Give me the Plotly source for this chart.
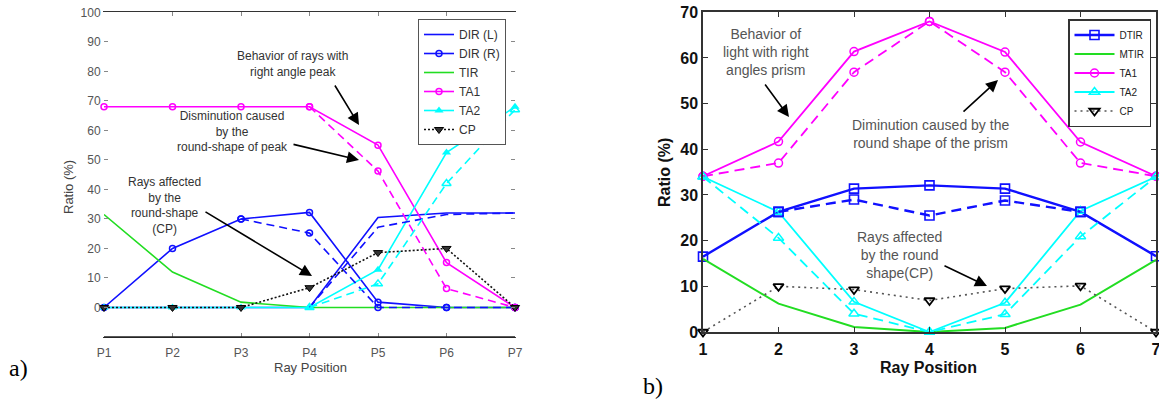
import plotly.graph_objects as go

W, H = 1159, 409

# ---------------- data: panel a ----------------
pos_a = [1, 2, 3, 4, 5, 6, 7]
pos_labels_a = ["P1", "P2", "P3", "P4", "P5", "P6", "P7"]
dir_l_a = [0, 0, 0, 0, 30.5, 32, 32]
dir_r_a = [0, 20, 30, 32.2, 1.8, 0, 0]
tir_a = [31.5, 12, 1.8, 0, 0, 0, 0]
ta1_a = [68, 68, 68, 68, 55, 15.2, 0]
ta2_a = [0, 0, 0, 0, 12.8, 52.5, 68]
cp_a = [0, 0, 0, 6.7, 18.6, 20, 0]
# round-shape (dashed) variants
dir_l_a_round = [None, None, None, 0, 27.2, 31.5, 32]
dir_r_a_round = [None, None, 30, 25.2, 0, 0, 0]
ta1_a_round = [None, None, None, 68, 46.2, 6.4, 0]
ta2_a_round = [None, None, None, 0, 8, 42, 67]
yticks_a = [0, 10, 20, 30, 40, 50, 60, 70, 80, 90, 100]

# ---------------- data: panel b ----------------
pos_b = [1, 2, 3, 4, 5, 6, 7]
dtir_b = [16.5, 26.3, 31.4, 32.1, 31.4, 26.3, 16.6]
dtir_b_round = [None, 26.3, 29, 25.5, 28.8, 26.3, None]
mtir_b = [16, 6.2, 1.1, 0, 0.9, 6, 15.8]
ta1_b = [34.1, 41.7, 61.4, 68, 61.3, 41.6, 34.1]
ta1_b_round = [34.1, 37, 56.9, 68, 56.9, 37, 34.1]
ta2_b = [34, 26.3, 6.6, 0, 6.4, 26.5, 34]
ta2_b_round = [34, 20.6, 4, 0, 3.9, 20.9, 34]
cp_b = [0, 10, 9.3, 6.9, 9.5, 10.1, 0]
yticks_b = [0, 10, 20, 30, 40, 50, 60, 70]

BLUE = "#1010ff"
GREEN = "#22dd22"
MAG = "#ff00ff"
CYAN = "#00ffff"
FONT = "Liberation Sans, Arial, sans-serif"


def px(x):
    return x / W


def py(y):
    return 1 - y / H


fig = go.Figure()

# ---- panel a traces ----
fig.add_trace(go.Scatter(x=pos_a, y=dir_l_a, name="DIR (L)", mode="lines",
                         line=dict(color=BLUE, width=1.6), legend="legend",
                         xaxis="x", yaxis="y", cliponaxis=False))
fig.add_trace(go.Scatter(x=pos_a, y=dir_r_a, name="DIR (R)", mode="lines+markers",
                         line=dict(color=BLUE, width=1.6),
                         marker=dict(symbol="circle-open", size=6, line=dict(width=1.5)),
                         legend="legend", xaxis="x", yaxis="y", cliponaxis=False))
fig.add_trace(go.Scatter(x=pos_a, y=tir_a, name="TIR", mode="lines",
                         line=dict(color=GREEN, width=1.6), legend="legend",
                         xaxis="x", yaxis="y", cliponaxis=False))
fig.add_trace(go.Scatter(x=pos_a, y=ta1_a, name="TA1", mode="lines+markers",
                         line=dict(color=MAG, width=1.6),
                         marker=dict(symbol="circle-open", size=6, line=dict(width=1.5)),
                         legend="legend", xaxis="x", yaxis="y", cliponaxis=False))
fig.add_trace(go.Scatter(x=pos_a, y=ta2_a, name="TA2", mode="lines+markers",
                         line=dict(color=CYAN, width=1.6),
                         marker=dict(symbol="triangle-up", size=8),
                         legend="legend", xaxis="x", yaxis="y", cliponaxis=False))
# dashed round-shape variants
fig.add_trace(go.Scatter(x=pos_a, y=dir_l_a_round, mode="lines", showlegend=False,
                         line=dict(color=BLUE, width=1.6, dash="8px,5px"),
                         xaxis="x", yaxis="y", cliponaxis=False))
fig.add_trace(go.Scatter(x=pos_a, y=dir_r_a_round, mode="lines+markers", showlegend=False,
                         line=dict(color=BLUE, width=1.6, dash="8px,5px"),
                         marker=dict(symbol="circle-open", size=6, line=dict(width=1.5)),
                         xaxis="x", yaxis="y", cliponaxis=False))
fig.add_trace(go.Scatter(x=pos_a, y=ta1_a_round, mode="lines+markers", showlegend=False,
                         line=dict(color=MAG, width=1.6, dash="8px,5px"),
                         marker=dict(symbol="circle-open", size=6, line=dict(width=1.5)),
                         xaxis="x", yaxis="y", cliponaxis=False))
fig.add_trace(go.Scatter(x=pos_a, y=ta2_a_round, mode="lines+markers", showlegend=False,
                         line=dict(color=CYAN, width=1.6, dash="8px,5px"),
                         marker=dict(symbol="triangle-up-open", size=8, line=dict(width=1.5)),
                         xaxis="x", yaxis="y", cliponaxis=False))
fig.add_trace(go.Scatter(x=pos_a, y=cp_a, name="CP", mode="lines+markers",
                         line=dict(color="#111111", width=1.6, dash="2px,2px"),
                         marker=dict(symbol="triangle-down", size=8, color="#333333",
                                     line=dict(color="#000000", width=1)),
                         legend="legend", xaxis="x", yaxis="y", cliponaxis=False))

# ---- panel b traces ----
fig.add_trace(go.Scatter(x=pos_b, y=dtir_b, name="DTIR", mode="lines+markers",
                         line=dict(color=BLUE, width=2.4),
                         marker=dict(symbol="square-open", size=9, line=dict(width=1.6)),
                         legend="legend2", xaxis="x2", yaxis="y2", cliponaxis=False))
fig.add_trace(go.Scatter(x=pos_b, y=mtir_b, name="MTIR", mode="lines",
                         line=dict(color=GREEN, width=2),
                         legend="legend2", xaxis="x2", yaxis="y2", cliponaxis=False))
fig.add_trace(go.Scatter(x=pos_b, y=ta1_b, name="TA1", mode="lines+markers",
                         line=dict(color=MAG, width=1.8),
                         marker=dict(symbol="circle-open", size=8, line=dict(width=1.5)),
                         legend="legend2", xaxis="x2", yaxis="y2", cliponaxis=False))
fig.add_trace(go.Scatter(x=pos_b, y=ta2_b, name="TA2", mode="lines+markers",
                         line=dict(color=CYAN, width=1.8),
                         marker=dict(symbol="triangle-up-open", size=9, line=dict(width=1.5)),
                         legend="legend2", xaxis="x2", yaxis="y2", cliponaxis=False))
fig.add_trace(go.Scatter(x=pos_b, y=dtir_b_round, mode="lines+markers", showlegend=False,
                         line=dict(color=BLUE, width=2.4, dash="10px,6px"),
                         marker=dict(symbol="square-open", size=9, line=dict(width=1.6)),
                         xaxis="x2", yaxis="y2", cliponaxis=False))
fig.add_trace(go.Scatter(x=pos_b, y=ta1_b_round, mode="lines+markers", showlegend=False,
                         line=dict(color=MAG, width=1.8, dash="10px,6px"),
                         marker=dict(symbol="circle-open", size=8, line=dict(width=1.5)),
                         xaxis="x2", yaxis="y2", cliponaxis=False))
fig.add_trace(go.Scatter(x=pos_b, y=ta2_b_round, mode="lines+markers", showlegend=False,
                         line=dict(color=CYAN, width=1.8, dash="10px,6px"),
                         marker=dict(symbol="triangle-up-open", size=9, line=dict(width=1.5)),
                         xaxis="x2", yaxis="y2", cliponaxis=False))
fig.add_trace(go.Scatter(x=pos_b, y=cp_b, name="CP", mode="lines+markers",
                         line=dict(color="#555555", width=1.6, dash="2px,4px"),
                         marker=dict(symbol="triangle-down-open", size=9, color="#000000",
                                     line=dict(width=1.8)),
                         legend="legend2", xaxis="x2", yaxis="y2", cliponaxis=False))

annotations = []


def text_ann(x, y, text, size, color, bold=False, angle=0, family=FONT):
    annotations.append(dict(x=px(x), y=py(y), xref="paper", yref="paper", text=text,
                            showarrow=False, xanchor="center", yanchor="middle",
                            textangle=angle,
                            font=dict(family=family, size=size, color=color,
                                      weight="bold" if bold else "normal")))


def arrow(tail, tip):
    annotations.append(dict(x=px(tip[0]), y=py(tip[1]), xref="paper", yref="paper",
                            ax=tail[0] - tip[0], ay=tail[1] - tip[1],
                            axref="pixel", ayref="pixel", text="", showarrow=True,
                            arrowhead=2, arrowsize=1.5, arrowwidth=1.6,
                            arrowcolor="#000000"))


# panel a texts
text_ann(292, 64, "Behavior of rays with<br>right angle peak", 12, "#333333")
text_ann(232, 132, "Disminution caused<br>by the<br>round-shape of peak", 12, "#333333")
text_ann(164, 205, "Rays affected<br>by the<br>round-shape<br>(CP)", 12, "#333333")
arrow((334, 84), (359, 125))
arrow((292, 144), (359, 160))
arrow((204, 211), (312, 276))
text_ann(68, 187, "Ratio (%)", 13, "#444444", angle=-90)
text_ann(310, 367, "Ray Position", 13, "#444444")
text_ann(18, 368, "a)", 24, "#000000", family="Liberation Serif, Times New Roman, serif")

# panel b texts
text_ann(766, 52, "Behavior of<br>light with right<br>angles prism", 14, "#555555")
text_ann(930, 134, "Diminution caused by the<br>round shape of the prism", 14, "#555555")
text_ann(899, 255, "Rays affected<br>by the round<br>shape(CP)", 14, "#555555")
arrow((764, 83), (789, 117))
arrow((962, 113), (998, 80))
arrow((943, 265), (987, 286))
text_ann(664, 173, "Ratio (%)", 16, "#111111", bold=True, angle=-90)
text_ann(929, 367, "Ray Position", 16, "#111111", bold=True)
text_ann(653, 386, "b)", 24, "#000000", family="Liberation Serif, Times New Roman, serif")

# frame line along the bottom of panel a (axis decoration)
shapes = [dict(type="line", xref="x domain", yref="y domain", x0=0, x1=1, y0=0, y1=0,
               line=dict(color="#222222", width=1.5), layer="above")]

fig.update_layout(
    width=W, height=H,
    margin=dict(l=0, r=0, t=0, b=0, autoexpand=False),
    paper_bgcolor="white", plot_bgcolor="white",
    font=dict(family=FONT),
    annotations=annotations,
    shapes=shapes,
    xaxis=dict(domain=[px(104), px(515)], range=[1, 7], tickvals=pos_a, ticktext=pos_labels_a,
               showline=True, linecolor="#333333", linewidth=1.2, mirror="allticks",
               ticks="inside", ticklen=4, tickcolor="#888888", showgrid=False,
               zeroline=False, tickfont=dict(size=12, color="#555555"),
               ticklabelstandoff=4, anchor="y", automargin=False,
               ticklabeloverflow="allow"),
    yaxis=dict(domain=[py(337), py(12.3)], range=[-10, 100], tickvals=yticks_a,
               showline=True, linecolor="rgba(0,0,0,0)", mirror="allticks", ticks="inside",
               ticklen=4, tickcolor="#888888", showgrid=False, zeroline=False,
               tickfont=dict(size=12, color="#555555"), anchor="x", automargin=False,
               ticklabeloverflow="allow"),
    xaxis2=dict(domain=[px(703), px(1156)], range=[1, 7], tickvals=pos_b,
                showline=True, linecolor="#333333", linewidth=1.5, mirror="ticks",
                ticks="inside", ticklen=5, tickcolor="#333333", showgrid=False,
                zeroline=False, tickfont=dict(size=16, color="#111111", weight="bold"),
                ticklabelstandoff=2, anchor="y2", automargin=False,
                ticklabeloverflow="allow"),
    yaxis2=dict(domain=[py(332), py(12.3)], range=[0, 70], tickvals=yticks_b,
                showline=True, linecolor="#333333", linewidth=1.5, mirror="ticks",
                ticks="inside", ticklen=5, tickcolor="#333333", showgrid=False,
                zeroline=False, tickfont=dict(size=16, color="#111111", weight="bold"),
                ticklabelstandoff=0, anchor="x2", automargin=False,
                ticklabeloverflow="allow"),
    legend=dict(x=px(418), y=py(19), xanchor="left", yanchor="top",
                bgcolor="white", bordercolor="#555555", borderwidth=1,
                font=dict(size=12, color="#333333"), tracegroupgap=0),
    legend2=dict(x=px(1068), y=py(19), xanchor="left", yanchor="top",
                 bgcolor="white", bordercolor="#333333", borderwidth=1.5,
                 font=dict(size=10, color="#222222"), tracegroupgap=0, itemwidth=40),
)

fig.write_html(
    "out.html",
    config={"displayModeBar": False},
    post_script="document.body.style.margin='0';document.body.style.overflow='hidden';",
)
